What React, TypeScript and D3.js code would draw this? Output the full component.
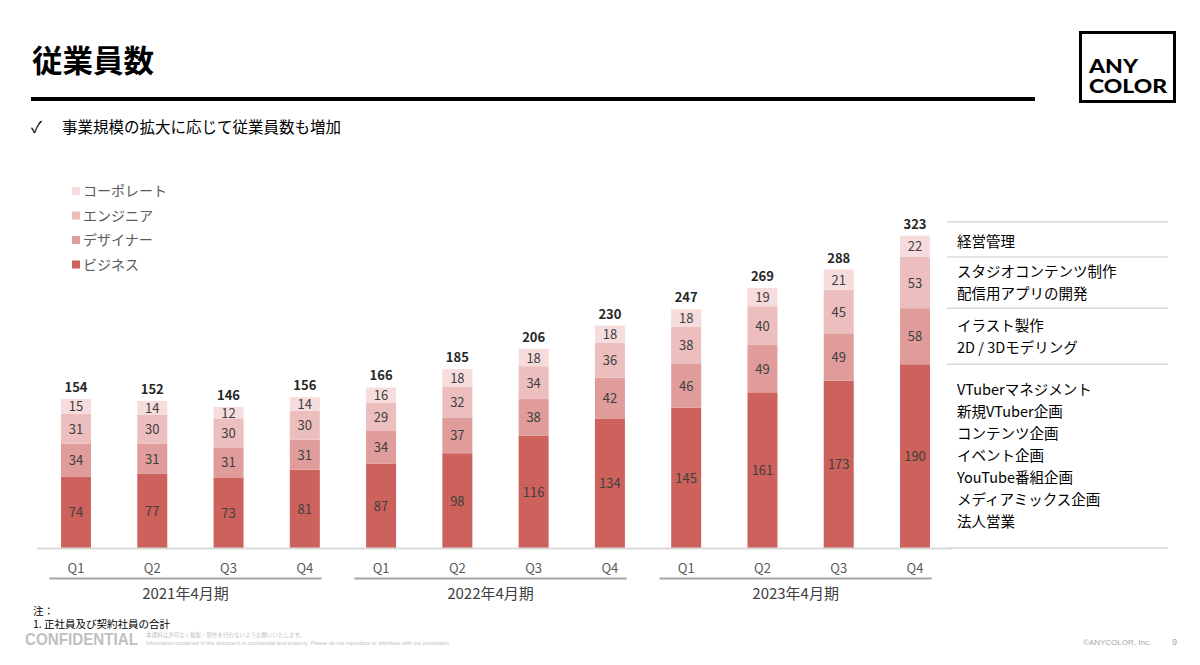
import React from 'react';
import * as d3 from 'd3';

// 従業員数 (quarterly headcount by job category)
const quarters = ['Q1', 'Q2', 'Q3', 'Q4', 'Q1', 'Q2', 'Q3', 'Q4', 'Q1', 'Q2', 'Q3', 'Q4'];
const periods = ['2021年4月期', '2022年4月期', '2023年4月期'];

const business = [74, 77, 73, 81, 87, 98, 116, 134, 145, 161, 173, 190];
const designer = [34, 31, 31, 31, 34, 37, 38, 42, 46, 49, 49, 58];
const engineer = [31, 30, 30, 30, 29, 32, 34, 36, 38, 40, 45, 53];
const corporate = [15, 14, 12, 14, 16, 18, 18, 18, 18, 19, 21, 22];
const totals = [154, 152, 146, 156, 166, 185, 206, 230, 247, 269, 288, 323];

const seriesNames = ['ビジネス', 'デザイナー', 'エンジニア', 'コーポレート'];
const seriesKeys = ['business', 'designer', 'engineer', 'corporate'];
const colors = ['#CD615C', '#DF9C9A', '#ECBEBE', '#F6DCDC'];

const roleGroups = [
  ['経営管理'],
  ['スタジオコンテンツ制作', '配信用アプリの開発'],
  ['イラスト製作', '2D / 3Dモデリング'],
  ['VTuberマネジメント', '新規VTuber企画', 'コンテンツ企画', 'イベント企画', 'YouTube番組企画', 'メディアミックス企画', '法人営業'],
];

const FONT = '"Noto Sans CJK JP", "Noto Sans", sans-serif';
const SANS = "'Liberation Sans', Arial, sans-serif";

const App = () => {
  const rows = quarters.map((q, i) => ({
    id: String(i),
    business: business[i],
    designer: designer[i],
    engineer: engineer[i],
    corporate: corporate[i],
  }));

  const stacked = d3.stack().keys(seriesKeys)(rows as any);

  const x = d3.scalePoint<string>()
    .domain(rows.map(r => r.id))
    .range([76, 915]);
  const y = d3.scaleLinear().domain([0, 340]).range([548, 548 - 340 * 0.967]);
  const barW = 30;
  const step = x.step();

  // right side separator lines follow the last bar's segment boundaries
  const last = stacked.map(s => s[s.length - 1]);
  const sepY = [y(totals[totals.length - 1]) - 14, y(last[2][1]), y(last[1][1]), y(last[0][1]), y(0)];

  return (
    <svg width={1200} height={665} style={{ position: 'absolute', left: 0, top: 0, background: '#fff' }}
      fontFamily={FONT}>
      {/* header */}
      <text x={32} y={72} fontSize={30.5} fontWeight={700} fill="#000">従業員数</text>
      <line x1={31} x2={1035} y1={99} y2={99} stroke="#000" strokeWidth={4} />
      <text x={31} y={133} fontSize={16} fill="#000">✓</text>
      <text x={62} y={133} fontSize={15.5} fill="#000">事業規模の拡大に応じて従業員数も増加</text>

      {/* logo */}
      <rect x={1080.5} y={32.5} width={94} height={69} fill="none" stroke="#000" strokeWidth={3} />
      <text x={1089} y={73} fontSize={18} fontWeight={900} fontFamily="Lato, sans-serif" fill="#000"
        textLength={49} lengthAdjust="spacingAndGlyphs">ANY</text>
      <text x={1089} y={93} fontSize={18} fontWeight={900} fontFamily="Lato, sans-serif" fill="#000"
        textLength={78} lengthAdjust="spacingAndGlyphs">COLOR</text>

      {/* legend */}
      {[3, 2, 1, 0].map((k, i) => (
        <g key={k} transform={`translate(72, ${191 + i * 24.5})`}>
          <rect x={0} y={-4} width={8} height={8} fill={colors[k]} />
          <text x={11} y={5} fontSize={14} fill="#595959">{seriesNames[k]}</text>
        </g>
      ))}

      {/* bars */}
      {stacked.map((s, k) => (
        <g key={seriesKeys[k]}>
          {s.map((d, i) => (
            <g key={i}>
              <rect x={(x(String(i)) as number) - barW / 2} y={y(d[1])} width={barW}
                height={y(d[0]) - y(d[1])} fill={colors[k]} />
              <text x={x(String(i)) as number} y={(y(d[0]) + y(d[1])) / 2 + 5}
                textAnchor="middle" fontSize={13} fill="#404040">{d[1] - d[0]}</text>
            </g>
          ))}
        </g>
      ))}
      {totals.map((t, i) => (
        <text key={i} x={x(String(i)) as number} y={y(t) - 7} textAnchor="middle"
          fontSize={13} fontWeight={700} fill="#262626">{t}</text>
      ))}

      {/* axis */}
      <line x1={37} x2={952} y1={548.5} y2={548.5} stroke="#D9D9D9" strokeWidth={2} />
      {quarters.map((q, i) => (
        <text key={i} x={x(String(i)) as number} y={573} textAnchor="middle" fontSize={13} fill="#595959">{q}</text>
      ))}
      {periods.map((p, g) => {
        const x0 = (x(String(g * 4)) as number) - step * 0.35;
        const x1 = (x(String(g * 4 + 3)) as number) + step * 0.22;
        return (
          <g key={p}>
            <line x1={x0} x2={x1} y1={578.5} y2={578.5} stroke="#A6A6A6" strokeWidth={2} />
            <text x={(x0 + x1) / 2} y={599} textAnchor="middle" fontSize={15} fill="#404040">{p}</text>
          </g>
        );
      })}

      {/* role descriptions */}
      {sepY.map((sy, i) => (
        <line key={i} x1={947} x2={1168} y1={sy} y2={sy} stroke="#D9D9D9" strokeWidth={1.5} />
      ))}
      {[242, 272, 326, 390].map((y0, g) => roleGroups[g].map((t, j) => (
        <text key={`${g}-${j}`} x={957} y={y0 + j * 22 + 5} fontSize={14.5} fill="#000">{t}</text>
      )))}

      {/* footer */}
      <text x={33} y={615} fontSize={10.5} fill="#000">注：</text>
      <text x={33} y={628} fontSize={10.5} fill="#000">1. 正社員及び契約社員の合計</text>
      <text x={25} y={645} fontSize={17} fontWeight={700} fontFamily={SANS} fill="#BFBFBF"
        textLength={113} lengthAdjust="spacingAndGlyphs">CONFIDENTIAL</text>
      <text x={146} y={637} fontSize={5.5} fill="#BFBFBF">本資料は許可なく複製・配布を行わないようお願いいたします。</text>
      <text x={146} y={645} fontSize={5.5} fontFamily={SANS} fill="#BFBFBF">Information contained in this document is confidential and property. Please do not reproduce or distribute with out permission.</text>
      <text x={1083} y={645} fontSize={8} fontFamily={SANS} fill="#A6A6A6">©ANYCOLOR, Inc.</text>
      <text x={1172} y={645} fontSize={9} fontFamily={SANS} fill="#A6A6A6">9</text>
    </svg>
  );
};

export default App;
